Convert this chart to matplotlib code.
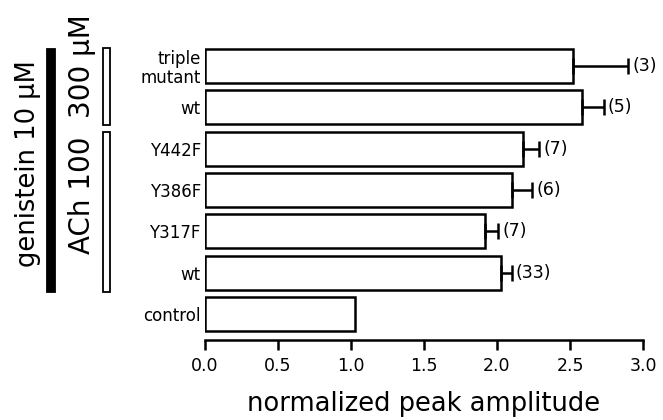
import matplotlib.pyplot as plt
import matplotlib.patches as mpatches

# bottom to top
labels = ['control', 'wt', 'Y317F', 'Y386F', 'Y442F', 'wt', 'triple\nmutant']
amps = [1.03, 2.03, 1.92, 2.10, 2.18, 2.58, 2.52]
errs = [0.0, 0.07, 0.09, 0.14, 0.11, 0.15, 0.38]
ns = ['', '(33)', '(7)', '(6)', '(7)', '(5)', '(3)']

W, H = 663, 420
fig = plt.figure(figsize=(W / 100, H / 100), dpi=100)
ax = fig.add_axes([205 / W, 1 - 340 / H, 438 / W, 295 / H])

pos = list(range(len(labels)))
ax.barh(pos, amps, height=0.82, color='white', edgecolor='black', linewidth=1.8, zorder=2)
for y, a, e, n in zip(pos, amps, errs, ns):
    if e > 0:
        ax.errorbar(a, y, xerr=[[0], [e]], fmt='none', ecolor='black',
                    elinewidth=1.8, capsize=6, capthick=1.8, zorder=3)
        ax.text(a + e + 0.03, y, n, va='center', ha='left', fontsize=12.5)

ax.set_xlim(0, 3.0)
ax.set_ylim(-0.62, 6.5)
ax.set_xticks([0, 0.5, 1.0, 1.5, 2.0, 2.5, 3.0])
ax.set_xticklabels(['0.0', '0.5', '1.0', '1.5', '2.0', '2.5', '3.0'], fontsize=12.5)
ax.set_yticks(pos)
ax.set_yticklabels(labels, fontsize=12, linespacing=1.1)
ax.tick_params(axis='y', length=0, pad=3)
ax.tick_params(axis='x', length=7, width=1.8, pad=5)
for s in ['top', 'right', 'left']:
    ax.spines[s].set_visible(False)
ax.spines['bottom'].set_linewidth(1.8)
ax.set_xlabel('normalized peak amplitude', fontsize=18.5, labelpad=12)

# treatment brackets on the left
def frect(x0, y0, x1, y1, fc):
    fig.patches.append(mpatches.Rectangle((x0 / W, 1 - y1 / H), (x1 - x0) / W, (y1 - y0) / H,
                                          transform=fig.transFigure, facecolor=fc,
                                          edgecolor='black', linewidth=1.3))

frect(47, 49, 55, 292, 'black')
frect(103, 48, 110, 125, 'white')
frect(103, 132, 110, 292, 'white')

fig.text(28 / W, 1 - 164 / H, 'genistein 10 \u03bcM', rotation=90, ha='center', va='center', fontsize=18.5)
fig.text(82 / W, 1 - 195 / H, 'ACh 100', rotation=90, ha='center', va='center', fontsize=20)
fig.text(82 / W, 1 - 66 / H, '300 \u03bcM', rotation=90, ha='center', va='center', fontsize=20)

fig.savefig('out.png', dpi=100)
